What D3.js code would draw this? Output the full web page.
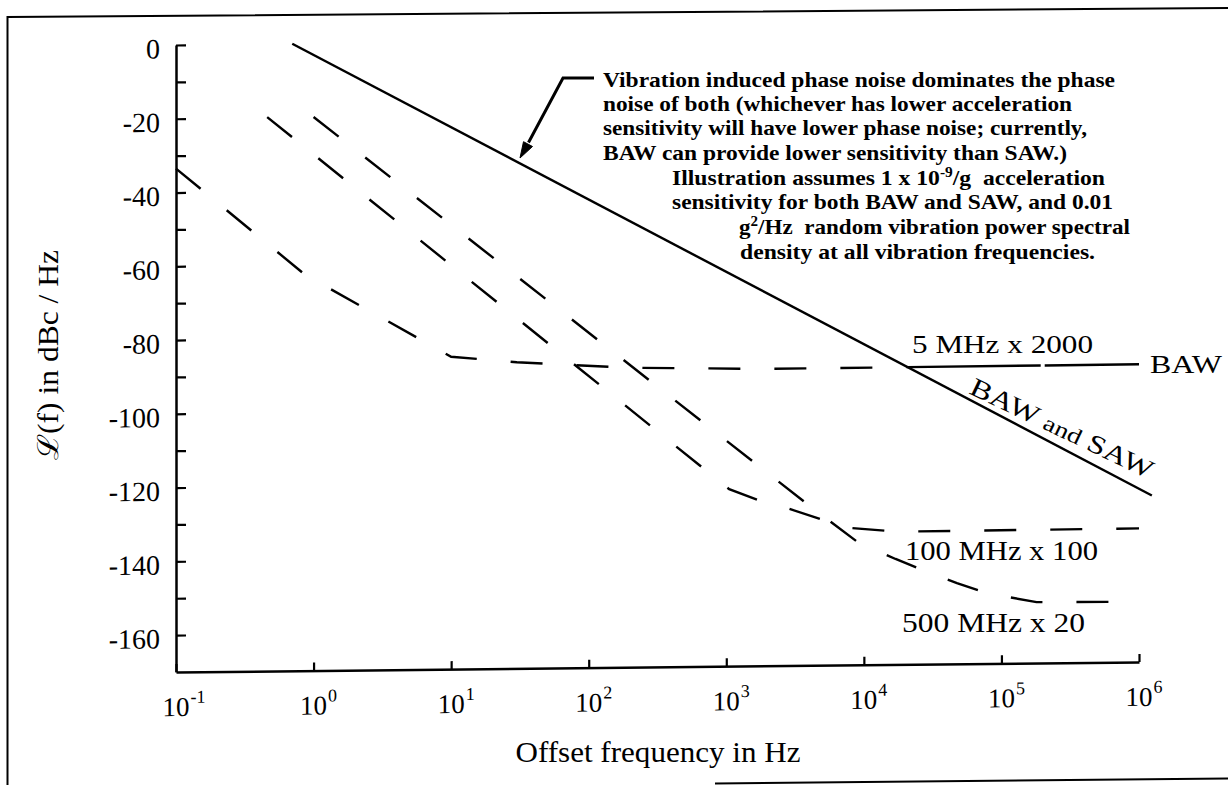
<!DOCTYPE html>
<html><head><meta charset="utf-8">
<script src="https://cdn.jsdelivr.net/npm/d3@7"></script>
<style>body{margin:0;background:#fff}svg{display:block}</style>
</head><body>
<svg id="c" width="1228" height="785"></svg>
<script>
// ---------------- data ----------------
const xTickExponents = [-1, 0, 1, 2, 3, 4, 5, 6];
const yTickValues = [0, -10, -20, -30, -40, -50, -60, -70, -80, -90, -100, -110, -120, -130, -140, -150, -160];
const yTickLabels = [0, -20, -40, -60, -80, -100, -120, -140, -160];

// [offset frequency Hz, L(f) dBc/Hz]
const vibrationBawSaw = [[0.7, 0], [1.24e6, -124.9]];
const baw5MHzx2000 = [[0.1, -33.5], [0.87, -62.7], [10, -85.3], [30, -87], [200, -88.8], [2000, -89.5], [1e6, -89.3]];
const saw100MHzx100 = [[0.46, -19.8], [1050, -122], [1700, -125], [2860, -127.5], [4800, -130.3], [8200, -132.9], [17400, -134], [1e6, -133.8]];
const saw500MHzx20 = [[1, -19.9], [3800, -126], [9000, -136.7], [17000, -141.4], [29000, -145], [47500, -148.1], [80000, -151], [180000, -153.5], [1e6, -153.7]];

const noteLines = [
  [["Vibration induced phase noise dominates the phase"]],
  [["noise of both (whichever has lower acceleration"]],
  [["sensitivity will have lower phase noise; currently,"]],
  [["BAW can provide lower sensitivity than SAW.)"]],
  [["Illustration assumes 1 x 10"], ["-9", 1], ["/g  acceleration"]],
  [["sensitivity for both BAW and SAW, and 0.01"]],
  [["g"], ["2", 1], ["/Hz  random vibration power spectral"]],
  [["density at all vibration frequencies."]]
];

// ---------------- layout ----------------
const svg = d3.select("#c");
const serif = "'Liberation Serif','Times New Roman',serif";
const shear = 0.01047;          // the scanned figure is slightly tilted
const ox = 176;
const x = d3.scaleLog().domain([0.1, 1e6]).range([176, 1139]);
const y = d3.scaleLinear().domain([-170, 0]).range([672, 45]);

// frame
svg.append("path").attr("d", "M7.5,785 V17 L1228,8").attr("fill", "none").attr("stroke", "#000").attr("stroke-width", 2);
svg.append("path").attr("d", "M715,783.5 L1228,778.5").attr("fill", "none").attr("stroke", "#000").attr("stroke-width", 2);

const g = svg.append("g")
  .attr("transform", `translate(${ox},0) skewY(${-Math.atan(shear) * 180 / Math.PI}) translate(${-ox},0)`);

// y axis
const yAxis = d3.axisLeft(y).tickValues(yTickValues).tickSize(-10).tickSizeOuter(0).tickPadding(16)
  .tickFormat(d => yTickLabels.includes(d) ? String(d) : "");
const gy = g.append("g").attr("transform", `translate(${x(0.1)},0)`).call(yAxis);
gy.select(".domain").attr("stroke-width", 2.5);
gy.selectAll(".tick line").attr("stroke-width", 2.2);
gy.selectAll("text").attr("font-family", serif).attr("font-size", 28).attr("fill", "#000").attr("dy", "0.45em");

// x axis
const xAxis = d3.axisBottom(x).tickValues(xTickExponents.map(e => Math.pow(10, e))).tickSize(-8).tickSizeOuter(0).tickFormat("");
const gx = g.append("g").attr("transform", `translate(0,${y(-170)})`).call(xAxis);
gx.select(".domain").attr("stroke-width", 2.5);
gx.selectAll(".tick line").attr("stroke-width", 2.2);

xTickExponents.forEach(e => {
  const t = g.append("text").attr("font-family", serif).attr("font-size", 27).attr("fill", "#000")
    .attr("y", y(-170) + 44);
  const base = t.append("tspan").text("10");
  t.append("tspan").attr("font-size", 18).attr("dy", -13).attr("dx", 1).text(String(e));
  const w = base.node().getComputedTextLength();
  t.attr("x", x(Math.pow(10, e)) - w / 2);
});

// curves
const line = d3.line().x(d => x(d[0])).y(d => y(d[1]));
function interp(data, f) {
  const lf = Math.log10(f);
  for (let i = 0; i < data.length - 1; i++) {
    const a = Math.log10(data[i][0]), b = Math.log10(data[i + 1][0]);
    if (lf >= a && lf <= b) return data[i][1] + (data[i + 1][1] - data[i][1]) * (lf - a) / (b - a);
  }
  return data[data.length - 1][1];
}
// crossing of vibration line and BAW floor
let lo = 2, hi = 6;
for (let k = 0; k < 60; k++) {
  const m = (lo + hi) / 2;
  const d = interp(vibrationBawSaw, Math.pow(10, m)) - interp(baw5MHzx2000, Math.pow(10, m));
  if (d > 0) lo = m; else hi = m;
}
const fCross = Math.pow(10, lo);
const bawHead = baw5MHzx2000.filter(d => d[0] < fCross).concat([[fCross, interp(baw5MHzx2000, fCross)]]);
const bawTail = [[fCross, interp(baw5MHzx2000, fCross)]].concat(baw5MHzx2000.filter(d => d[0] > fCross));

const dash = "32,34";
[[saw100MHzx100, dash], [saw500MHzx20, dash], [bawHead, dash], [bawTail, "133,4,300"]].forEach(([d, da]) => {
  g.append("path").datum(d).attr("d", line).attr("fill", "none").attr("stroke", "#000")
    .attr("stroke-width", 2.4).attr("stroke-dasharray", da);
});
g.append("path").datum(vibrationBawSaw).attr("d", line).attr("fill", "none").attr("stroke", "#000").attr("stroke-width", 2.4);

// axis titles
svg.append("text").attr("font-family", serif).attr("font-size", 29).attr("fill", "#000")
  .attr("text-anchor", "middle").attr("x", 658).attr("y", 762)
  .attr("textLength", 285).attr("lengthAdjust", "spacingAndGlyphs").text("Offset frequency in Hz");
svg.append("text").attr("font-family", serif).attr("font-size", 29).attr("fill", "#000")
  .attr("text-anchor", "middle").attr("transform", "translate(58,355) rotate(-90)")
  .attr("textLength", 210).attr("lengthAdjust", "spacingAndGlyphs").text("ℒ(f) in dBc / Hz");

// curve labels
const labels = [
  ["5 MHz x 2000", 912, 353, 181, 26],
  ["BAW", 1150, 373, 72, 25],
  ["100 MHz x 100", 905, 560, 193, 27],
  ["500 MHz x 20", 902, 632, 183, 27]
];
labels.forEach(([t, lx, ly, tl, fs]) => {
  svg.append("text").attr("font-family", serif).attr("font-size", fs).attr("fill", "#000")
    .attr("x", lx).attr("y", ly).attr("textLength", tl).attr("lengthAdjust", "spacingAndGlyphs").text(t);
});
const rot = svg.append("text").attr("font-family", serif).attr("font-size", 26).attr("fill", "#000")
  .attr("transform", "translate(968,393) rotate(25.5)").attr("textLength", 200).attr("lengthAdjust", "spacingAndGlyphs");
rot.append("tspan").text("BAW ");
rot.append("tspan").attr("font-size", 22).text("and");
rot.append("tspan").text(" SAW");

// annotation note
const notePos = [[603, 86.5, 512], [603, 111, 469], [603, 135, 484], [603, 160, 464],
                 [672, 184.5, 433], [672, 209, 441], [739, 234, 391], [740, 258.5, 355]];
noteLines.forEach((segs, i) => {
  const [nx, ny, tl] = notePos[i];
  const t = svg.append("text").attr("font-family", serif).attr("font-weight", "bold").attr("font-size", 21.5)
    .attr("fill", "#000").attr("x", nx).attr("y", ny).attr("textLength", tl).attr("lengthAdjust", "spacingAndGlyphs")
    .attr("xml:space", "preserve");
  let up = false;
  segs.forEach(([s, sup]) => {
    const ts = t.append("tspan").text(s);
    if (sup) { ts.attr("font-size", 14).attr("dy", -8); up = true; }
    else if (up) { ts.attr("dy", 8); up = false; }
  });
});

// arrow
svg.append("path").attr("d", "M594,78 H563 L528.5,142.5").attr("fill", "none").attr("stroke", "#000").attr("stroke-width", 3);
svg.append("path").attr("d", "M520,158 L532.5,146.5 L523.5,141.7 Z").attr("fill", "#000").attr("stroke", "#000").attr("stroke-width", 1);
</script>
</body></html>
